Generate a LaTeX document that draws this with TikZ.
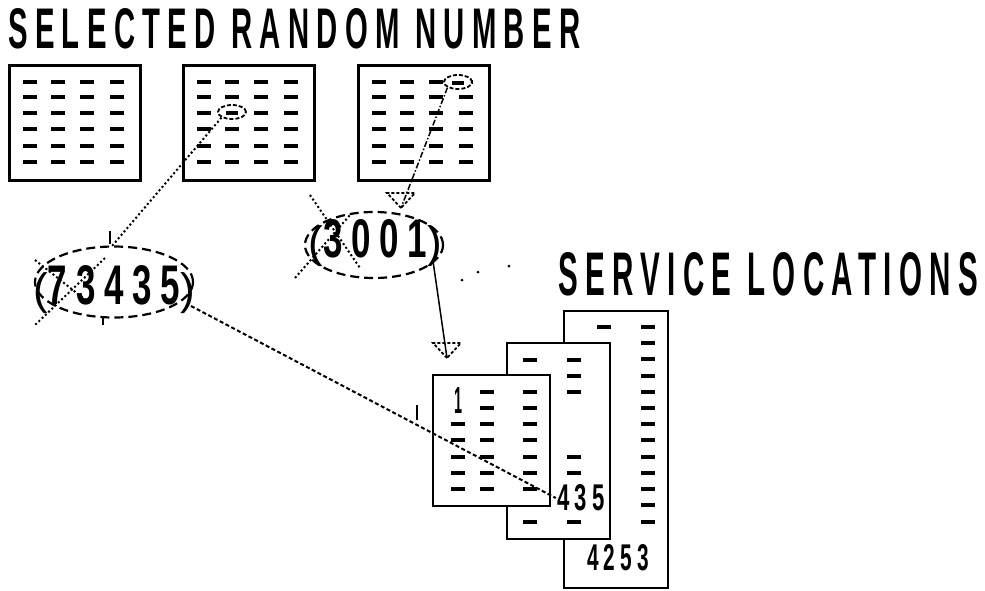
\documentclass[tikz,border=0pt]{standalone}
\usepackage{fontspec}
\setmainfont{Liberation Sans}
\newfontfamily\spf[LetterSpace=25]{Liberation Sans}
\usetikzlibrary{shapes.geometric}
\begin{document}
\begin{tikzpicture}[x=1pt,y=-1pt,
  gridbox/.style={draw,line width=2.6pt,fill=white},
  pagebox/.style={draw,line width=2.4pt,fill=white},
  dsh/.style={line width=3.2pt},
  oval/.style={ellipse,draw,line width=2.2pt,dash pattern=on 9pt off 5pt,inner sep=0},
  selmark/.style={ellipse,draw,line width=1.8pt,dash pattern=on 4pt off 2pt,inner sep=0,minimum width=28pt,minimum height=14pt},
  lbl/.style={inner sep=0,font=\spf\bfseries},
  dotline/.style={line width=2pt,dash pattern=on 2pt off 2.5pt},
  denseline/.style={line width=2pt,dash pattern=on 4pt off 2.5pt},
  thinline/.style={line width=1.5pt},
  dashdot/.style={line width=1.5pt,dash pattern=on 6pt off 2pt on 1.5pt off 2pt},
  tribox/.style={line width=1.8pt,dash pattern=on 3pt off 2pt},
  tickmk/.style={line width=1.6pt}]
\useasboundingbox (0,0) rectangle (985,590);

% titles
\node[lbl,anchor=base west] (title1) at (8,48) {\resizebox{572pt}{40pt}{SELECTED RANDOM NUMBER}};
\node[lbl,anchor=base west] (title2) at (558,295) {\resizebox{420pt}{43pt}{SERVICE LOCATIONS}};

% grid boxes
\foreach \bx/\nm in {8/g1,182/g2,357/g3}{
  \node[gridbox,anchor=north west,minimum width=131pt,minimum height=115pt,inner sep=0] (\nm) at (\bx,64) {};
  \foreach \cx in {22,50,79,109}{
    \foreach \ry in {18,33,49,65,82,98}{
      \draw[dsh] (\bx+\cx-7,64+\ry) -- (\bx+\cx+7,64+\ry);
    }
  }
}
\node[selmark,fill=white] (m2) at (232,112) {};
\draw[dsh] (226,113) -- (238,113);
\node[selmark,fill=white] (m3) at (458,82) {};
\draw[dsh] (452,83) -- (464,83);

% ovals
\node[oval,minimum width=158pt,minimum height=71pt] (o1) at (114,282) {};
\node[inner sep=0,font=\fontsize{44}{44}\selectfont] (o1t) at (114,290) {(\resizebox{132pt}{39pt}{\spf\bfseries 73435})};
\draw[dotline] (35,260) -- (88,302);
\draw[dotline] (105,258) -- (35,325);

\node[oval,minimum width=138pt,minimum height=66pt] (o2) at (374,245) {};
\node[inner sep=0,font=\fontsize{44}{44}\selectfont] (o2t) at (375,243) {(\resizebox{104pt}{38pt}{\spf\bfseries 3001})};
\draw[dotline] (310,195) -- (360,268);
\draw[dotline] (295,278) -- (350,215);

% ticks
\draw[tickmk] (110,231) -- (110,244);
\draw[tickmk] (103,317) -- (103,325);
\draw[tickmk] (417,405) -- (417,420);

% faint dots
\foreach \p in {(462,280),(478,272),(509,266)}{\fill \p circle (1.5pt);}

% service location pages
\node[pagebox,anchor=north west,minimum width=104pt,minimum height=277pt,inner sep=0] (pback) at (563,310) {};
\draw[dsh] (597,327) -- (611,327);
\foreach \ry in {327,343,359,376,392,408,424,440,457,473,489,505,522}{
  \draw[dsh] (641,\ry) -- (655,\ry);
}
\node[lbl] (n4253) at (618,558) {\resizebox{62pt}{26pt}{4253}};

\node[pagebox,anchor=north west,minimum width=103pt,minimum height=196pt,inner sep=0] (pmid) at (506,342) {};
\foreach \ry in {360,522}{\draw[dsh] (523,\ry) -- (537,\ry);}
\foreach \ry in {360,376,392,457,473,522}{\draw[dsh] (567,\ry) -- (581,\ry);}
\node[lbl,fill=white,inner sep=1pt] (n435) at (581,498) {\resizebox{48pt}{26pt}{435}};

\node[pagebox,anchor=north west,minimum width=117pt,minimum height=131pt,inner sep=0] (pfront) at (432,374) {};
\node[inner sep=0,font=\bfseries] (n1) at (458,400) {\resizebox{8pt}{26pt}{1}};
\foreach \ry in {424,440,457,473,489}{\draw[dsh] (451,\ry) -- (465,\ry);}
\foreach \ry in {392,408,424,440,457,473,489}{
  \draw[dsh] (480,\ry) -- (494,\ry);
  \draw[dsh] (523,\ry) -- (537,\ry);
}

% triangles (hollow arrowheads)
\coordinate (tri1) at (401,208);
\coordinate (tri2) at (447,358);
\draw[tribox] (tri1) -- ++(-14,-15) -- ++(28,0) -- cycle;
\draw[tribox] (tri2) -- ++(-14,-15) -- ++(28,0) -- cycle;

% connectors
\coordinate (o1top) at (112,246);
\coordinate (o1east) at (191,306);
\coordinate (o2se) at (433,261);
\draw[dotline] (m2.south west) -- (o1top);
\draw[dashdot] (m3.south west) -- (tri1);
\draw[thinline] (o2se) -- (tri2);
\draw[denseline] (o1east) -- (n435.west);
\end{tikzpicture}
\end{document}
